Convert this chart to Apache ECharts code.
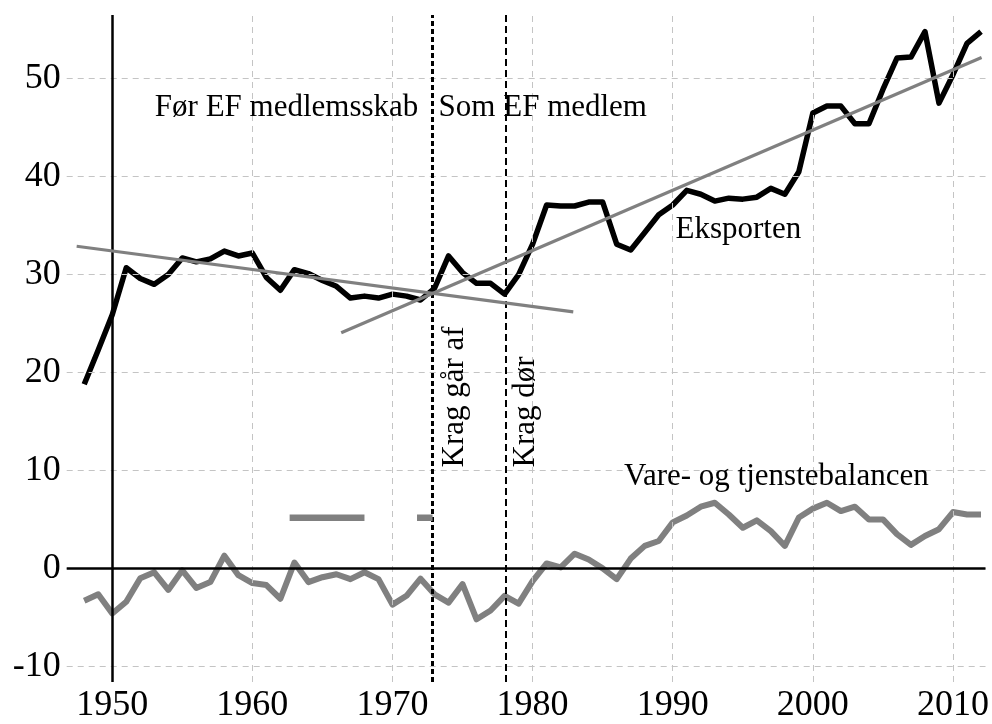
<!DOCTYPE html>
<html>
<head>
<meta charset="utf-8">
<script src="https://cdn.jsdelivr.net/npm/echarts@6/dist/echarts.min.js"></script>
<style>
html, body { margin: 0; padding: 0; background: #fff; }
#chart { width: 992px; height: 724px; }
</style>
</head>
<body>
<div id="chart"></div>
<script>
// Eksport og vare- og tjenestebalance, pct. af BNP
var firstYear = 1948;
var eksport = [
  18.8, 22.3, 25.9, 30.7, 29.6, 29.0, 30.0, 31.7, 31.3, 31.6,
  32.4, 31.9, 32.2, 29.7, 28.4, 30.5, 30.1, 29.4, 28.8, 27.6,
  27.8, 27.6, 28.0, 27.8, 27.4, 28.6, 31.9, 30.2, 29.1, 29.1,
  28.0, 30.0, 33.1, 37.1, 37.0, 37.0, 37.4, 37.4, 33.1, 32.5,
  34.3, 36.1, 37.1, 38.6, 38.2, 37.5, 37.8, 37.7, 37.9, 38.8,
  38.2, 40.5, 46.5, 47.2, 47.2, 45.4, 45.4, 48.9, 52.1, 52.2,
  54.8, 47.5, 50.4, 53.6, 54.8
];
var balance = [
  -3.3, -2.65, -4.6, -3.4, -1.0, -0.4, -2.2, -0.2, -2.0, -1.4,
  1.3, -0.7, -1.5, -1.7, -3.1, 0.6, -1.4, -0.9, -0.6, -1.1,
  -0.4, -1.1, -3.7, -2.8, -1.05, -2.65, -3.5, -1.6, -5.2, -4.3,
  -2.8, -3.6, -1.3, 0.5, 0.1, 1.5, 0.9, 0.0, -1.1, 1.0,
  2.3, 2.8, 4.7, 5.4, 6.3, 6.7, 5.5, 4.15, 4.9, 3.8,
  2.3, 5.2, 6.1, 6.7, 5.85, 6.3, 5.0, 5.0, 3.5, 2.4,
  3.3, 4.0, 5.75, 5.5, 5.5
];
// trendlinjer før og efter EF
var trendFor = [[1947.46, 32.89], [1982.9, 26.19]];
var trendEF = [[1966.34, 24.05], [2012.04, 52.17]];
// små grå stykker
var grayBit1 = [[1962.66, 5.17], [1968.0, 5.17]];
var grayBit2 = [[1971.75, 5.17], [1972.86, 5.17]];
// Krag går af / Krag dør
var eventYears = [1972.85, 1978.05];
var xTicks = [1950, 1960, 1970, 1980, 1990, 2000, 2010];
var yTicks = [-10, 0, 10, 20, 30, 40, 50];
var notes = [
  { text: 'Før EF medlemsskab', at: [1953.04, 47.0], rot: 0 },
  { text: 'Som EF medlem', at: [1973.29, 47.0], rot: 0 },
  { text: 'Eksporten', at: [1990.2, 34.6], rot: 0 },
  { text: 'Vare- og tjenstebalancen', at: [1986.52, 9.3], rot: 0 },
  { text: 'Krag går af', at: [1974.48, 10.3], rot: 90 },
  { text: 'Krag dør', at: [1979.54, 10.3], rot: 90 }
];

var FONT = "'Liberation Serif', 'Times New Roman', serif";

function pairs(vals) {
  return vals.map(function (v, i) { return [firstYear + i, v]; });
}

var chart = echarts.init(document.getElementById('chart'));

chart.setOption({
  backgroundColor: '#fff',
  animation: false,
  grid: { left: 66.7, right: 5.3, top: 15, bottom: 41 },
  xAxis: {
    type: 'value',
    min: 1946.75,
    max: 2012.32,
    axisLine: { show: false },
    axisTick: { show: false },
    splitLine: { show: false },
    axisLabel: {
      customValues: xTicks,
      formatter: function (v) { return String(v); },
      margin: 6,
      fontFamily: FONT,
      fontSize: 36,
      color: '#000'
    }
  },
  yAxis: {
    type: 'value',
    min: -11.6,
    max: 56.5,
    axisLine: { show: false },
    axisTick: { show: false },
    splitLine: { show: false },
    axisLabel: {
      customValues: yTicks,
      formatter: function (v) { return String(v); },
      margin: 6,
      fontFamily: FONT,
      fontSize: 36,
      color: '#000'
    }
  },
  series: [
    {
      // gitterlinjer
      type: 'line', data: [], z: 1, silent: true,
      markLine: {
        silent: true, symbol: 'none', animation: false,
        label: { show: false },
        lineStyle: { color: '#c4c4c4', width: 1, type: [6, 5] },
        data: xTicks.map(function (v) { return { xAxis: v }; })
          .concat(yTicks.map(function (v) { return { yAxis: v }; }))
      }
    },
    {
      type: 'line', data: [], z: 2, silent: true,
      markLine: {
        silent: true, symbol: 'none', animation: false,
        label: { show: false },
        lineStyle: { color: '#000', width: 2.5, type: 'solid' },
        data: [{ xAxis: 1950 }, { yAxis: 0 }]
      }
    },
    {
      type: 'line', data: [], z: 3, silent: true,
      markLine: {
        silent: true, symbol: 'none', animation: false,
        label: { show: false },
        data: [
          { xAxis: eventYears[0], lineStyle: { color: '#000', width: 3, type: [5, 3] } },
          { xAxis: eventYears[1], lineStyle: { color: '#000', width: 2, type: [7, 4] } }
        ]
      }
    },
    {
      name: 'Eksporten', type: 'line', data: pairs(eksport), z: 4,
      showSymbol: false, lineStyle: { color: '#000', width: 5.5, join: 'round' }
    },
    {
      name: 'Vare- og tjenstebalancen', type: 'line', data: pairs(balance), z: 4,
      showSymbol: false, lineStyle: { color: '#808080', width: 6, join: 'round' }
    },
    {
      type: 'line', data: trendFor, z: 5, showSymbol: false,
      lineStyle: { color: '#808080', width: 3.2 }
    },
    {
      type: 'line', data: trendEF, z: 5, showSymbol: false,
      lineStyle: { color: '#808080', width: 3.2 }
    },
    {
      type: 'line', data: grayBit1, z: 5, showSymbol: false,
      lineStyle: { color: '#808080', width: 6.5, cap: 'butt' }
    },
    {
      type: 'line', data: grayBit2, z: 5, showSymbol: false,
      lineStyle: { color: '#808080', width: 6.5, cap: 'butt' }
    }
  ]
});

// tekster placeret i dataenheder
chart.setOption({
  graphic: notes.map(function (n) {
    var p = chart.convertToPixel({ gridIndex: 0 }, n.at);
    return {
      type: 'text',
      x: p[0], y: p[1],
      rotation: n.rot * Math.PI / 180,
      z: 10,
      style: {
        text: n.text,
        font: '31px ' + FONT,
        fill: '#000',
        align: 'left',
        verticalAlign: 'middle'
      }
    };
  })
});
</script>
</body>
</html>
